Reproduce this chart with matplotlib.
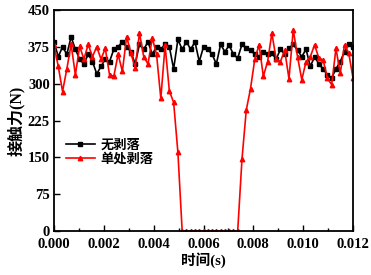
import numpy as np
import matplotlib
matplotlib.use("Agg")
import matplotlib.pyplot as plt
from matplotlib.ticker import MultipleLocator

t = np.linspace(0, 0.012, 71)

no_spall = [385, 355, 375, 360, 395, 370, 350, 340, 360, 345,
            320, 335, 350, 345, 370, 375, 385, 375, 365, 340,
            380, 370, 385, 360, 375, 370, 380, 375, 330, 390,
            370, 385, 370, 385, 345, 375, 370, 360, 340, 380,
            365, 378, 360, 352, 380, 372, 368, 360, 355, 365,
            360, 362, 350, 370, 360, 372, 380, 368, 355, 370,
            335, 355, 340, 330, 318, 312, 330, 345, 365, 380, 375]

single_spall = [378, 335, 284, 330, 380, 318, 376, 350, 380, 355,
                375, 350, 372, 318, 315, 360, 325, 396, 362, 332,
                403, 355, 340, 393, 360, 270, 378, 285, 262, 160,
                0, 0, 0, 0, 0, 0, 0, 0, 0, 0,
                0, 0, 0, 0, 146, 246, 290, 350, 379, 315,
                345, 403, 350, 345, 368, 310, 410, 355, 308, 345,
                355, 379, 352, 348, 311, 298, 372, 321, 379, 362, 311]

labels = ["无剥落", "单处剥落"]
xlabel = "时间(s)"
ylabel = "接触力(N)"

fam = ["Liberation Serif", "Noto Sans CJK SC"]
plt.rcParams['font.family'] = fam
plt.rcParams['font.weight'] = 'bold'

fig = plt.figure(figsize=(3.71, 2.75), dpi=100)
ax = fig.add_axes([0.1456, 0.16, 0.806, 0.8036])

ax.plot(t, no_spall, color='black', marker='s', markersize=2.8, lw=1.2, label=labels[0])
ax.plot(t, single_spall, color='red', marker='^', markersize=3.2, lw=1.2, label=labels[1])

ax.set_xlim(0, 0.012)
ax.set_ylim(0, 450)
ax.xaxis.set_major_locator(MultipleLocator(0.002))
ax.xaxis.set_minor_locator(MultipleLocator(0.001))
ax.yaxis.set_major_locator(MultipleLocator(75))
ax.xaxis.set_major_formatter(matplotlib.ticker.FormatStrFormatter('%.3f'))
ax.tick_params(axis='both', which='both', direction='in', top=False, right=False,
               labelsize=10.5, width=1.0)
ax.tick_params(axis='x', pad=5)
ax.tick_params(axis='y', pad=3)
ax.tick_params(which='major', length=4)
ax.tick_params(which='minor', length=2)
for lab in ax.get_xticklabels() + ax.get_yticklabels():
    lab.set_fontweight('bold')
for s in ax.spines.values():
    s.set_linewidth(1.3)

ax.set_xlabel(xlabel, fontsize=10.5, fontweight='bold', labelpad=1)
ax.set_ylabel(ylabel, fontsize=11.5, fontweight='bold', labelpad=2)

leg = ax.legend(loc='upper left', bbox_to_anchor=(0.0, 0.47), frameon=False,
                prop={'family': fam, 'size': 9.5, 'weight': 'bold'},
                handlelength=2.2, handletextpad=0.4, labelspacing=0.15)

fig.savefig("out.png", dpi=100)
